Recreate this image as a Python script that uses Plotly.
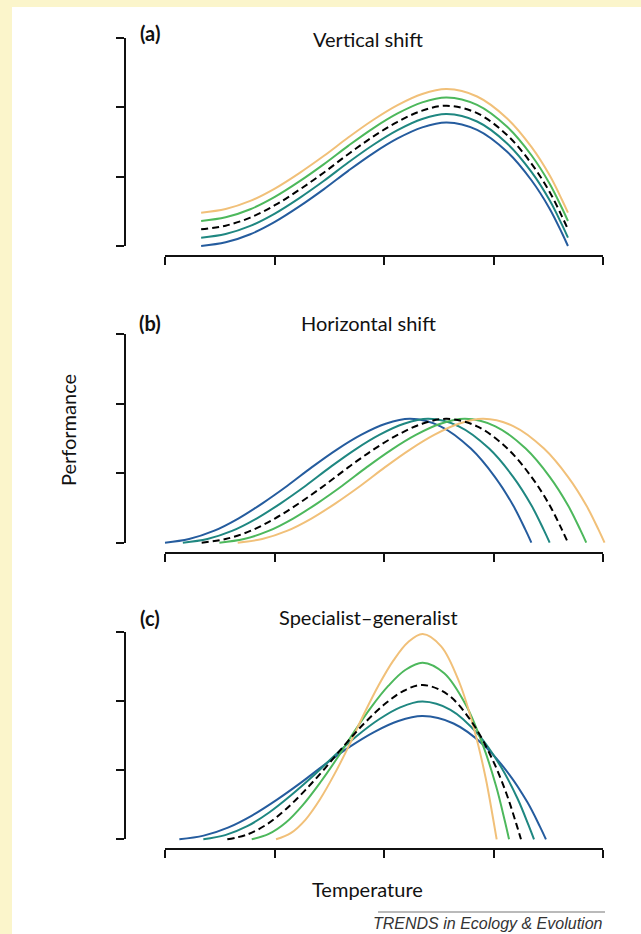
import plotly.graph_objects as go

# ---------------- data ----------------
temperature_ticks = [0, 1, 2, 3, 4]
performance_ticks = [0, 1, 2, 3]

# (a) Vertical shift
a_x = [0.330, 0.554, 0.779, 1.003, 1.227, 1.452, 1.676, 1.900, 2.124, 2.349, 2.573, 2.850, 3.127, 3.348, 3.514, 3.625, 3.680]
a_blue = [0.000, 0.053, 0.169, 0.347, 0.570, 0.819, 1.086, 1.335, 1.549, 1.709, 1.780, 1.673, 1.353, 0.943, 0.534, 0.187, 0.000]
a_teal = [0.120, 0.173, 0.289, 0.467, 0.690, 0.939, 1.206, 1.455, 1.669, 1.829, 1.900, 1.793, 1.473, 1.063, 0.654, 0.307, 0.120]
a_ref = [0.240, 0.293, 0.409, 0.587, 0.810, 1.059, 1.326, 1.575, 1.789, 1.949, 2.020, 1.913, 1.593, 1.183, 0.774, 0.427, 0.240]
a_green = [0.360, 0.413, 0.529, 0.707, 0.930, 1.179, 1.446, 1.695, 1.909, 2.069, 2.140, 2.033, 1.713, 1.303, 0.894, 0.547, 0.360]
a_orange = [0.480, 0.533, 0.649, 0.827, 1.050, 1.299, 1.566, 1.815, 2.029, 2.189, 2.260, 2.153, 1.833, 1.423, 1.014, 0.667, 0.480]

# (b) Horizontal shift
b_y = [0.000, 0.053, 0.169, 0.347, 0.570, 0.819, 1.086, 1.335, 1.549, 1.709, 1.780, 1.673, 1.353, 0.943, 0.534, 0.187, 0.000]
b_x_blue = [0.000, 0.220, 0.445, 0.669, 0.893, 1.118, 1.342, 1.566, 1.790, 2.015, 2.239, 2.516, 2.793, 3.014, 3.180, 3.291, 3.346]
b_x_teal = [0.163, 0.387, 0.612, 0.836, 1.060, 1.285, 1.509, 1.733, 1.957, 2.182, 2.406, 2.683, 2.960, 3.181, 3.347, 3.458, 3.513]
b_x_ref = [0.335, 0.554, 0.779, 1.003, 1.227, 1.452, 1.676, 1.900, 2.124, 2.349, 2.573, 2.850, 3.127, 3.348, 3.514, 3.625, 3.680]
b_x_green = [0.497, 0.721, 0.946, 1.170, 1.394, 1.619, 1.843, 2.067, 2.291, 2.516, 2.740, 3.017, 3.294, 3.515, 3.681, 3.792, 3.847]
b_x_orange = [0.664, 0.888, 1.113, 1.337, 1.561, 1.786, 2.010, 2.234, 2.458, 2.683, 2.907, 3.184, 3.461, 3.682, 3.848, 3.959, 4.014]

# (c) Specialist-generalist
c_x_blue = [0.131, 0.353, 0.575, 0.798, 1.020, 1.242, 1.464, 1.686, 1.909, 2.131, 2.353, 2.635, 2.916, 3.141, 3.310, 3.423, 3.479]
c_y_blue = [0.000, 0.053, 0.169, 0.347, 0.570, 0.819, 1.086, 1.335, 1.549, 1.709, 1.780, 1.673, 1.353, 0.943, 0.534, 0.187, 0.000]
c_x_teal = [0.350, 0.550, 0.751, 0.951, 1.151, 1.352, 1.552, 1.752, 1.952, 2.153, 2.353, 2.607, 2.862, 3.065, 3.217, 3.319, 3.370]
c_y_teal = [0.000, 0.060, 0.189, 0.388, 0.637, 0.915, 1.214, 1.493, 1.731, 1.910, 1.990, 1.871, 1.512, 1.055, 0.597, 0.209, 0.000]
c_x_ref = [0.569, 0.747, 0.926, 1.104, 1.283, 1.461, 1.639, 1.818, 1.996, 2.175, 2.353, 2.578, 2.802, 2.982, 3.116, 3.206, 3.251]
c_y_ref = [0.000, 0.067, 0.212, 0.435, 0.714, 1.026, 1.360, 1.673, 1.940, 2.141, 2.230, 2.096, 1.695, 1.182, 0.669, 0.234, 0.000]
c_x_green = [0.792, 0.948, 1.104, 1.260, 1.416, 1.573, 1.729, 1.885, 2.041, 2.197, 2.353, 2.550, 2.748, 2.905, 3.024, 3.103, 3.142]
c_y_green = [0.000, 0.077, 0.242, 0.498, 0.817, 1.174, 1.557, 1.914, 2.220, 2.450, 2.552, 2.399, 1.940, 1.353, 0.766, 0.268, 0.000]
c_x_orange = [1.014, 1.148, 1.282, 1.416, 1.550, 1.684, 1.817, 1.951, 2.085, 2.219, 2.353, 2.522, 2.691, 2.826, 2.928, 2.995, 3.029]
c_y_orange = [0.000, 0.089, 0.282, 0.579, 0.949, 1.365, 1.810, 2.225, 2.581, 2.848, 2.967, 2.789, 2.255, 1.573, 0.890, 0.312, 0.000]

panel_labels = ["(a)", "(b)", "(c)"]
panel_titles = ["Vertical shift", "Horizontal shift", "Specialist\u2013generalist"]
y_title = "Performance"
x_title = "Temperature"
credit = "TRENDS in Ecology & Evolution"

# ---------------- styling / layout ----------------
W, H = 641, 934
C_BLUE = "#255C9E"
C_TEAL = "#1F8781"
C_GREEN = "#4DB85C"
C_ORANGE = "#F1C079"
C_REF = "#000000"
BG_YELLOW = "#FBF5CB"
FONT = "Lato"
TEXT_SIZE = 20

X0_PX, X4_PX = 165.0, 603.0
YAXIS_X_PX = 125.0
# (top tick px, bottom tick px, x-axis line px, label y px, title y px)
panel_geom = [
    (37.7, 246.0, 256.2, 33.0, 39.0),
    (334.0, 542.7, 553.3, 323.0, 323.0),
    (631.7, 839.3, 849.3, 618.0, 617.0),
]
PAD = 8.0


def fx(p):
    return p / W


def fy(p):
    return 1 - p / H


DASH = "7px,4px"
panel_series = [
    [(a_x, a_blue, C_BLUE, None), (a_x, a_teal, C_TEAL, None), (a_x, a_green, C_GREEN, None),
     (a_x, a_orange, C_ORANGE, None), (a_x, a_ref, C_REF, DASH)],
    [(b_x_blue, b_y, C_BLUE, None), (b_x_teal, b_y, C_TEAL, None), (b_x_green, b_y, C_GREEN, None),
     (b_x_orange, b_y, C_ORANGE, None), (b_x_ref, b_y, C_REF, DASH)],
    [(c_x_blue, c_y_blue, C_BLUE, None), (c_x_teal, c_y_teal, C_TEAL, None), (c_x_green, c_y_green, C_GREEN, None),
     (c_x_orange, c_y_orange, C_ORANGE, None), (c_x_ref, c_y_ref, C_REF, DASH)],
]

fig = go.Figure()
layout_axes = {}
annotations = []
ux = (X4_PX - X0_PX) / (len(temperature_ticks) - 1)

for k, (top, bottom, xline, lab_y, tit_y) in enumerate(panel_geom):
    di = 2 * k + 1  # data axes index
    vi = 2 * k + 2  # visible axes index
    uy = (bottom - top) / (len(performance_ticks) - 1)
    dname = "" if di == 1 else str(di)
    layout_axes["xaxis" + dname] = dict(
        domain=[fx(X0_PX - PAD), fx(X4_PX + PAD)],
        range=[temperature_ticks[0] - PAD / ux, temperature_ticks[-1] + PAD / ux],
        visible=False, anchor="y" + dname, fixedrange=True)
    layout_axes["yaxis" + dname] = dict(
        domain=[fy(bottom + PAD), fy(top - PAD)],
        range=[performance_ticks[0] - PAD / uy, performance_ticks[-1] + PAD / uy],
        visible=False, anchor="x" + dname, fixedrange=True)
    layout_axes["xaxis" + str(vi)] = dict(
        domain=[fx(X0_PX), fx(X4_PX)], range=[temperature_ticks[0], temperature_ticks[-1]],
        anchor="free", position=fy(xline), showline=True, linecolor="#111111", linewidth=2,
        ticks="outside", ticklen=8, tickwidth=2, tickcolor="#111111",
        tickvals=temperature_ticks, showticklabels=False, showgrid=False, zeroline=False, fixedrange=True)
    layout_axes["yaxis" + str(vi)] = dict(
        domain=[fy(bottom), fy(top)], range=[performance_ticks[0], performance_ticks[-1]],
        anchor="free", position=fx(YAXIS_X_PX), showline=True, linecolor="#111111", linewidth=2,
        ticks="outside", ticklen=8, tickwidth=2, tickcolor="#111111",
        tickvals=performance_ticks, showticklabels=False, showgrid=False, zeroline=False, fixedrange=True)
    fig.add_trace(go.Scatter(x=[None], y=[None], xaxis="x" + str(vi), yaxis="y" + str(vi),
                             showlegend=False, hoverinfo="skip"))
    for xs, ys, col, dash in panel_series[k]:
        fig.add_trace(go.Scatter(
            x=xs, y=ys, mode="lines", xaxis="x" + dname, yaxis="y" + dname,
            line=dict(color=col, width=2, shape="spline", smoothing=1.0, dash=dash or "solid"),
            showlegend=False, hoverinfo="skip"))
    annotations.append(dict(text=panel_labels[k], x=fx(150), y=fy(lab_y), xref="paper", yref="paper",
                            showarrow=False, xanchor="center", yanchor="middle",
                            font=dict(family=FONT, size=TEXT_SIZE, color="#111111", weight="bold")))
    annotations.append(dict(text=panel_titles[k], x=fx(368), y=fy(tit_y), xref="paper", yref="paper",
                            showarrow=False, xanchor="center", yanchor="middle",
                            font=dict(family=FONT, size=TEXT_SIZE, color="#111111")))

annotations.append(dict(text=y_title, x=fx(68), y=fy(430), xref="paper", yref="paper", textangle=-90,
                        showarrow=False, xanchor="center", yanchor="middle",
                        font=dict(family=FONT, size=TEXT_SIZE, color="#111111")))
annotations.append(dict(text=x_title, x=fx(367), y=fy(889), xref="paper", yref="paper",
                        showarrow=False, xanchor="center", yanchor="middle",
                        font=dict(family=FONT, size=TEXT_SIZE, color="#111111")))
annotations.append(dict(text="<i>" + credit + "</i>", x=fx(605), y=fy(923), xref="paper", yref="paper",
                        showarrow=False, xanchor="right", yanchor="middle",
                        font=dict(family="Liberation Sans", size=16, color="#333333")))

shapes = [
    dict(type="rect", xref="paper", yref="paper", x0=fx(12), x1=1.0, y0=0.0, y1=fy(7),
         fillcolor="white", line=dict(width=0), layer="below"),
    dict(type="line", xref="paper", yref="paper", x0=fx(378), x1=fx(605), y0=fy(912), y1=fy(912),
         line=dict(color="#777777", width=1.2)),
]

fig.update_layout(
    width=W, height=H, margin=dict(l=0, r=0, t=0, b=0, pad=0),
    paper_bgcolor=BG_YELLOW, plot_bgcolor="rgba(0,0,0,0)",
    showlegend=False, annotations=annotations, shapes=shapes, **layout_axes)

fig.write_html("out.html")
